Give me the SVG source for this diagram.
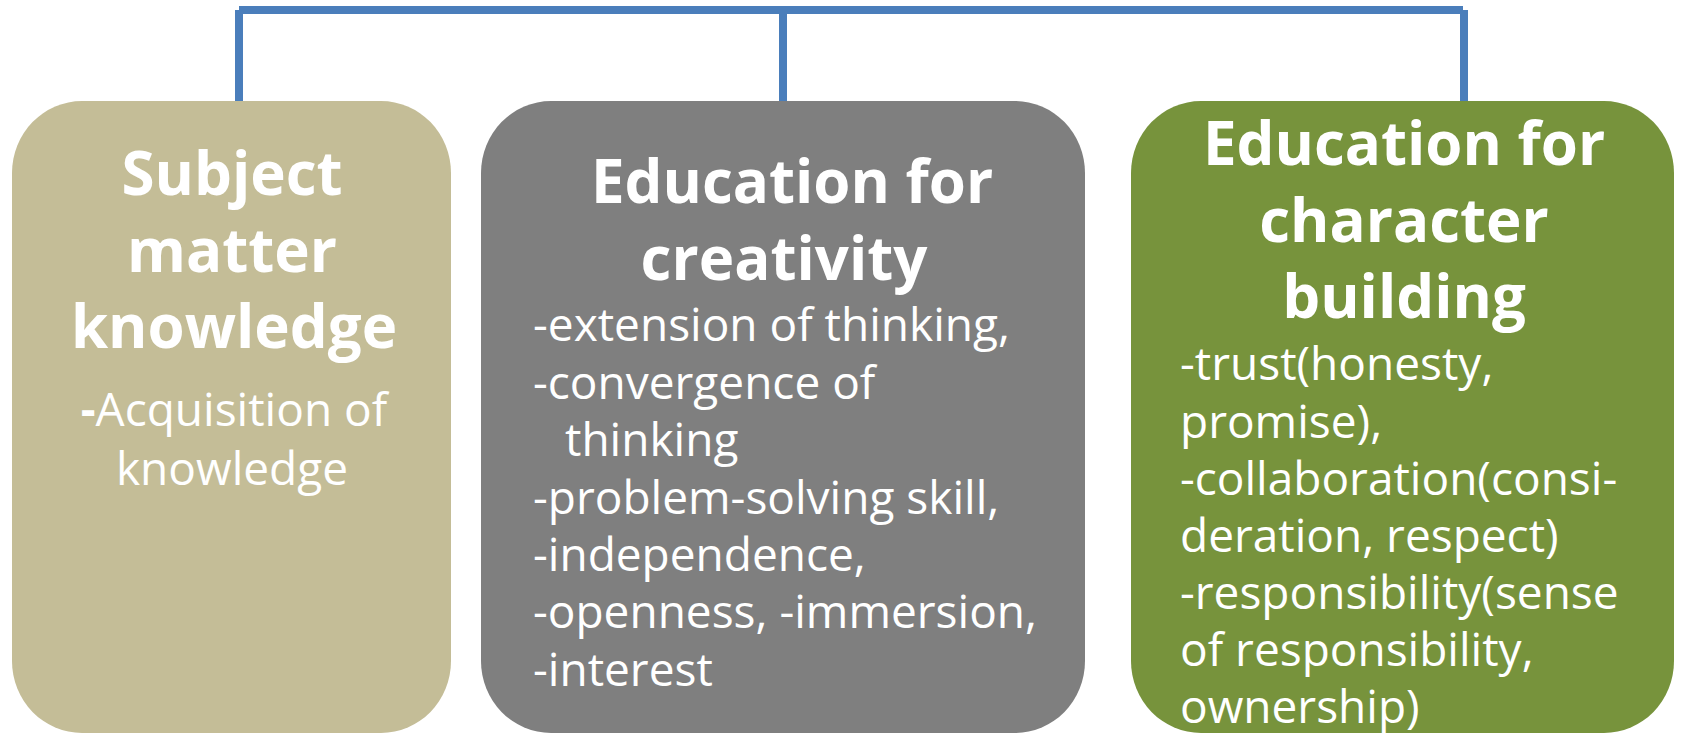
<svg xmlns="http://www.w3.org/2000/svg" width="1681" height="734" viewBox="0 0 1681 734">
  <style>
    .wire { fill: none; stroke: #4A7EBB; stroke-width: 8; stroke-linecap: butt; }
    .box { stroke: none; }
    .title { font-family: "Open Sans", "Noto Sans", "Liberation Sans", sans-serif; font-weight: 700; font-size: 60px; fill: #FFFFFF; text-anchor: middle; }
    .body { font-family: "Open Sans", "Noto Sans", "Liberation Sans", sans-serif; font-weight: 400; font-size: 46px; fill: #FFFFFF; }
    .mid { text-anchor: middle; }
  </style>

  <!-- bracket joining the three areas -->
  <g id="connectors">
    <line class="wire" x1="239" y1="10" x2="1463" y2="10"/>
    <line class="wire" x1="239" y1="10" x2="239" y2="101"/>
    <line class="wire" x1="783" y1="10" x2="783" y2="101"/>
    <line class="wire" x1="1464" y1="10" x2="1464" y2="101"/>
  </g>

  <!-- subject matter knowledge -->
  <g id="node-knowledge">
    <rect class="box" x="12" y="101" width="439" height="632" rx="70" ry="72" fill="#C4BD97"/>
    <text class="title" x="232" y="195">Subject</text>
    <text class="title" x="232" y="272">matter</text>
    <text class="title" x="234" y="348">knowledge</text>
    <text class="body mid" x="234" y="426"><tspan font-weight="700">-</tspan>Acquisition of</text>
    <text class="body mid" x="232" y="485">knowledge</text>
  </g>

  <!-- education for creativity -->
  <g id="node-creativity">
    <rect class="box" x="481" y="101" width="604" height="632" rx="70" ry="72" fill="#7F7F7F"/>
    <text class="title" x="792" y="203">Education for</text>
    <text class="title" x="784" y="280">creativity</text>
    <text class="body" x="533" y="341">-extension of thinking,</text>
    <text class="body" x="533" y="399">-convergence of</text>
    <text class="body" x="565" y="456">thinking</text>
    <text class="body" x="533" y="514">-problem-solving skill,</text>
    <text class="body" x="533" y="571">-independence,</text>
    <text class="body" x="533" y="628">-openness, -immersion,</text>
    <text class="body" x="533" y="686">-interest</text>
  </g>

  <!-- education for character building -->
  <g id="node-character">
    <rect class="box" x="1131" y="101" width="543" height="632" rx="70" ry="72" fill="#77933C"/>
    <text class="title" x="1404" y="165">Education for</text>
    <text class="title" x="1404" y="242">character</text>
    <text class="title" x="1404" y="318">building</text>
    <text class="body" x="1180" y="380">-trust(honesty,</text>
    <text class="body" x="1180" y="438">promise),</text>
    <text class="body" x="1180" y="495">-collaboration(consi-</text>
    <text class="body" x="1180" y="552">deration, respect)</text>
    <text class="body" x="1180" y="609">-responsibility(sense</text>
    <text class="body" x="1180" y="666">of responsibility,</text>
    <text class="body" x="1180" y="723">ownership)</text>
  </g>
</svg>
